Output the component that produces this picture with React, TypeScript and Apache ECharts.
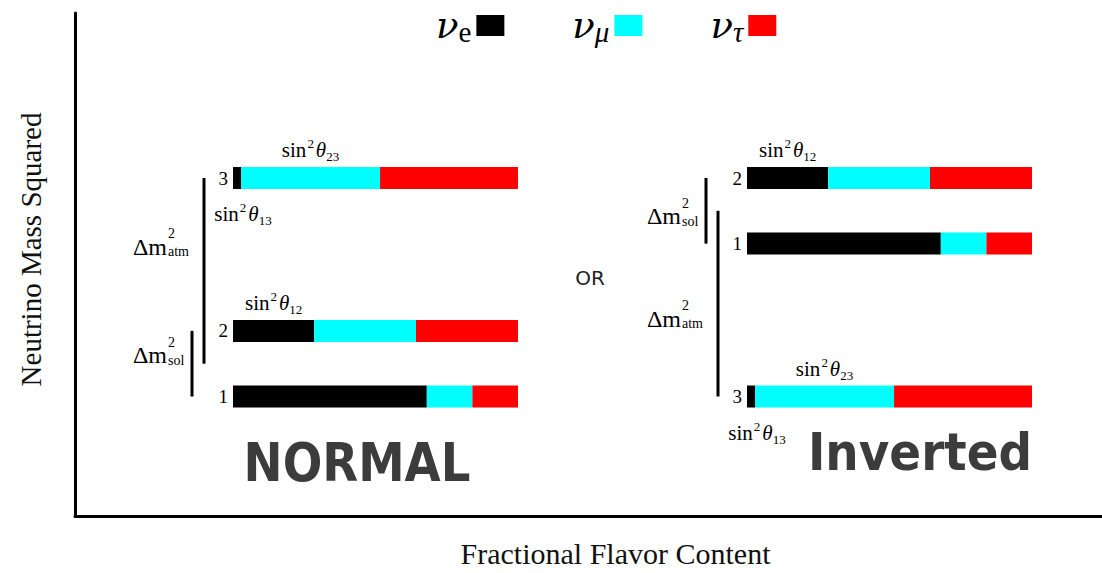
import React, { useEffect, useRef } from "react";
import * as echarts from "echarts";

// ---- data ----
const flavorNames = ["νe", "νμ", "ντ"];
const flavorColors = ["#000000", "#00ffff", "#ff0000"];
const stateNames = ["1", "2", "3"];
// fractional flavor content of mass states 1, 2, 3
const electronFraction = [0.68, 0.285, 0.028];
const muonFraction = [0.16, 0.357, 0.488];
const tauFraction = [0.16, 0.358, 0.484];
const fractions = [electronFraction, muonFraction, tauFraction];
// mass-squared splittings (arbitrary units)
const dmSol = 1;
const dmAtm = 2.33;
const normalLevels = [0, dmSol, dmSol + dmAtm];
const invertedLevels = [dmAtm, dmAtm + dmSol, 0];
const diagramLevels = [normalLevels, invertedLevels];
const diagramTitles = ["NORMAL", "Inverted"];
const splittingNames = ["sol", "atm"];
// mixing-angle annotations: diagram, mass state index, flavor index, side, angle subscript
const annotations = [
  { diagram: 0, state: 2, flavor: 1, side: "top", sub: "23" },
  { diagram: 0, state: 2, flavor: 0, side: "bottom", sub: "13" },
  { diagram: 0, state: 1, flavor: 0, side: "top", sub: "12" },
  { diagram: 1, state: 1, flavor: 0, side: "top", sub: "12" },
  { diagram: 1, state: 2, flavor: 1, side: "top", sub: "23" },
  { diagram: 1, state: 2, flavor: 0, side: "bottom", sub: "13" },
];

const SERIF = "Liberation Serif";

const sinRich = {
  r: { fontFamily: SERIF, fontSize: 21, lineHeight: 26, color: "#000" },
  th: { fontFamily: SERIF, fontSize: 21, fontStyle: "italic", lineHeight: 26, color: "#000" },
  sup: { fontFamily: SERIF, fontSize: 13, lineHeight: 14, verticalAlign: "top", color: "#000", padding: [0, 2, 0, 1] },
  sub: { fontFamily: SERIF, fontSize: 13, lineHeight: 18, verticalAlign: "bottom", color: "#000" },
};

function makeFlavorSeries(diagram: number, flavor: number) {
  const levels = diagramLevels[diagram];
  const data = stateNames.map((_, i) => {
    let start = 0;
    for (let f = 0; f < flavor; f++) start += fractions[f][i];
    return [start, start + fractions[flavor][i], levels[i]];
  });
  return {
    type: "custom",
    name: flavorNames[flavor],
    xAxisIndex: diagram + 1,
    yAxisIndex: diagram + 1,
    itemStyle: { color: flavorColors[flavor] },
    encode: { x: [0, 1], y: 2 },
    data,
    renderItem: (params: any, api: any) => {
      const s = api.coord([api.value(0), api.value(2)]);
      const e = api.coord([api.value(1), api.value(2)]);
      const h = 22;
      const children: any[] = [
        {
          type: "rect",
          shape: { x: s[0], y: s[1] - h / 2, width: e[0] - s[0], height: h },
          style: { fill: flavorColors[flavor] },
        },
      ];
      const ann = annotations.find(
        (a) => a.diagram === diagram && a.state === params.dataIndex && a.flavor === flavor
      );
      if (ann) {
        children.push({
          type: "text",
          x: (s[0] + e[0]) / 2 + (ann.side === "bottom" ? 6 : 0),
          y: s[1] + (ann.side === "top" ? -28 : 36),
          style: {
            text: `{r|sin}{sup|2}{th|θ}{sub|${ann.sub}}`,
            rich: sinRich,
            align: "center",
            verticalAlign: "middle",
          },
        });
      }
      return { type: "group", children };
    },
  };
}

function makeSplittingSeries(diagram: number) {
  const L = diagramLevels[diagram];
  const data =
    diagram === 0
      ? [
          [L[2], (L[0] + L[1]) / 2, 1],
          [L[1], L[0], 0],
        ]
      : [
          [L[1], L[0], 0],
          [(L[0] + L[1]) / 2, L[2], 1],
        ];
  const labelFrac = diagram === 0 ? 0.37 : 0.58;
  return {
    type: "custom",
    name: "splitting" + diagram,
    xAxisIndex: diagram + 1,
    yAxisIndex: diagram + 1,
    silent: true,
    data,
    renderItem: (params: any, api: any) => {
      const a = api.coord([0, api.value(0)]);
      const b = api.coord([0, api.value(1)]);
      const kind = api.value(2);
      const x = a[0] + (kind === 0 ? -41 : -29);
      const jx = a[0] - 66;
      const ly = a[1] + labelFrac * (b[1] - a[1]);
      return {
        type: "group",
        children: [
          {
            type: "line",
            shape: { x1: x, y1: a[1], x2: x, y2: b[1] },
            style: { stroke: "#000", lineWidth: 3 },
          },
          {
            type: "text",
            x: jx,
            y: ly,
            style: {
              text: "Δm",
              fontFamily: SERIF,
              fontSize: 24,
              fill: "#000",
              align: "right",
              verticalAlign: "middle",
            },
          },
          {
            type: "text",
            x: jx + 1,
            y: ly - 4,
            style: {
              text: "2\n" + splittingNames[kind],
              fontFamily: SERIF,
              fontSize: 14,
              lineHeight: 18,
              fill: "#000",
              align: "left",
              verticalAlign: "middle",
            },
          },
        ],
      };
    },
  };
}

function stateLabel(levels: number[]) {
  return (v: number) => {
    const i = levels.findIndex((l) => Math.abs(l - v) < 1e-6);
    return i >= 0 ? stateNames[i] : "";
  };
}

const hiddenAxis = {
  axisLine: { show: false },
  axisTick: { show: false },
  splitLine: { show: false },
};

export default function App() {
  const ref = useRef<HTMLDivElement>(null);
  useEffect(() => {
    document.body.style.margin = "0";
    const chart = echarts.init(ref.current!, null, { renderer: "svg" });
    const frameAxis = {
      type: "value",
      min: 0,
      max: 1,
      axisLine: { show: true, onZero: false, lineStyle: { color: "#000", width: 3 } },
      axisTick: { show: false },
      axisLabel: { show: false },
      splitLine: { show: false },
      nameLocation: "middle",
      nameTextStyle: { fontFamily: SERIF, fontSize: 29, color: "#111" },
    };
    const option: any = {
      animation: false,
      backgroundColor: "#fff",
      grid: [
        { left: 75, top: 13, right: 0, bottom: 57 },
        { left: 233, right: 584, top: 178, bottom: 176.5 },
        { left: 747, right: 70, top: 178, bottom: 176.5 },
      ],
      legend: {
        data: flavorNames,
        left: 431,
        top: 2,
        itemGap: 68,
        align: "right",
        icon: "rect",
        itemWidth: 28,
        itemHeight: 21,
        selectedMode: false,
        formatter: (name: string) =>
          `{nu|ν}{${name === "νe" ? "se" : "sg"}|${name.slice(1)}}`,
        textStyle: {
          rich: {
            nu: { fontFamily: "DejaVu Serif", fontStyle: "italic", fontSize: 37, lineHeight: 42, color: "#000" },
            se: { fontFamily: SERIF, fontSize: 29, lineHeight: 30, verticalAlign: "bottom", color: "#000" },
            sg: { fontFamily: SERIF, fontStyle: "italic", fontSize: 29, lineHeight: 30, verticalAlign: "bottom", color: "#000" },
          },
        },
      },
      xAxis: [
        { ...frameAxis, gridIndex: 0, name: "Fractional Flavor Content", nameGap: 22, nameTextStyle: { ...frameAxis.nameTextStyle, fontSize: 30, padding: [0, 0, 0, 54] } },
        { type: "value", gridIndex: 1, min: 0, max: 1, show: false },
        { type: "value", gridIndex: 2, min: 0, max: 1, show: false },
      ],
      yAxis: [
        { ...frameAxis, gridIndex: 0, name: "Neutrino Mass Squared", nameGap: 30, nameRotate: 90, nameTextStyle: { ...frameAxis.nameTextStyle, padding: [0, 0, 0, 30] } },
        ...[0, 1].map((d) => ({
          type: "value",
          gridIndex: d + 1,
          min: 0,
          max: dmSol + dmAtm,
          ...hiddenAxis,
          axisLabel: {
            customValues: diagramLevels[d],
            formatter: stateLabel(diagramLevels[d]),
            margin: 5,
            fontFamily: SERIF,
            fontSize: 19,
            color: "#000",
          },
        })),
      ],
      graphic: [
        {
          type: "text",
          x: 590,
          y: 278,
          style: { text: "OR", fontFamily: "DejaVu Sans", fontSize: 20, fill: "#222", align: "center", verticalAlign: "middle" },
        },
        {
          type: "text",
          x: 357,
          y: 463,
          scaleX: 0.88,
          style: { text: diagramTitles[0], fontFamily: "DejaVu Sans", fontWeight: "bold", fontSize: 53, fill: "#3c3c3c", align: "center", verticalAlign: "middle" },
        },
        {
          type: "text",
          x: 920,
          y: 453,
          scaleX: 0.92,
          style: { text: diagramTitles[1], fontFamily: "DejaVu Sans", fontWeight: "bold", fontSize: 51, fill: "#3c3c3c", align: "center", verticalAlign: "middle" },
        },
      ],
      series: [
        ...[0, 1].flatMap((d) => [0, 1, 2].map((f) => makeFlavorSeries(d, f))),
        makeSplittingSeries(0),
        makeSplittingSeries(1),
      ],
    };
    chart.setOption(option);
    return () => chart.dispose();
  }, []);
  return <div ref={ref} style={{ width: 1102, height: 573 }} />;
}
